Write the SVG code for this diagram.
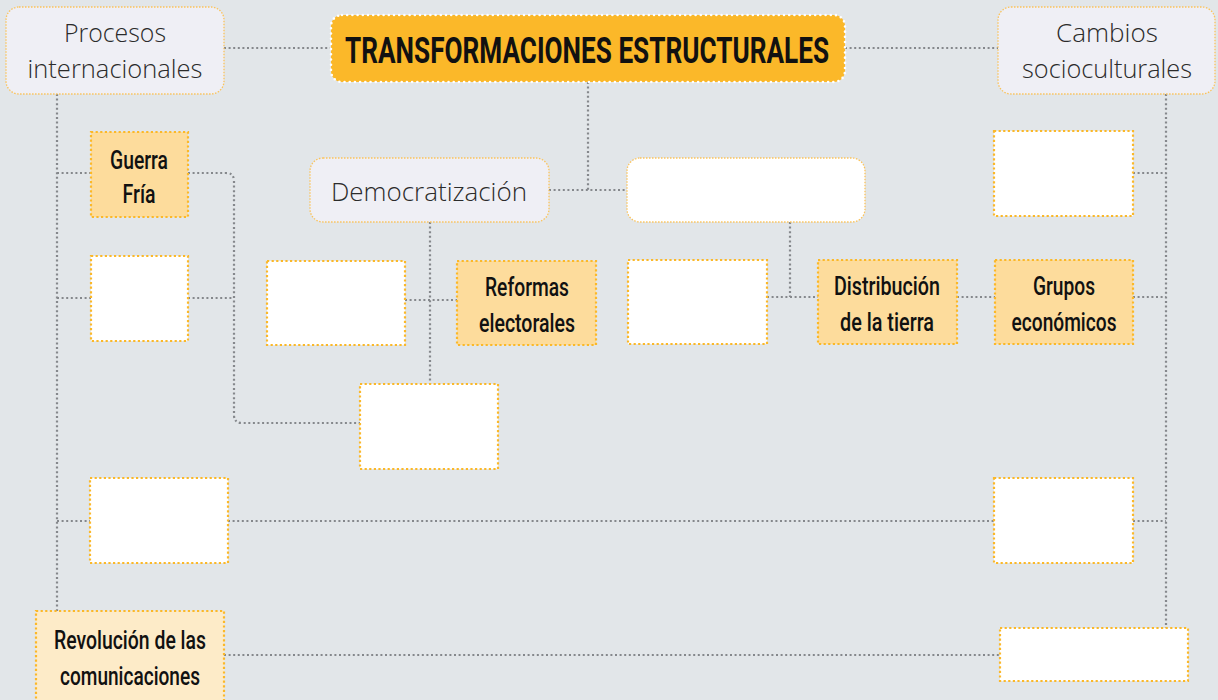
<svg xmlns="http://www.w3.org/2000/svg" width="1218" height="700" viewBox="0 0 1218 700">
<style>
.bg{fill:#e2e6e9}
.conn{fill:none;stroke:#85888c;stroke-width:2.2;stroke-dasharray:2 2.6}
.main{fill:#efeff5;stroke:#fbc35a;stroke-width:1.3;stroke-dasharray:1.5 1.5}
.blankr{fill:#ffffff;stroke:#fbc35a;stroke-width:1.3;stroke-dasharray:1.5 1.5}
.blank{fill:#ffffff;stroke:#fbb829;stroke-width:2.2;stroke-dasharray:2.2 2.4}
.lab{fill:#fddc9c;stroke:#fbb829;stroke-width:2.2;stroke-dasharray:2.2 2.4}
.lab2{fill:#fdebc8;stroke:#fbb829;stroke-width:2.2;stroke-dasharray:2.2 2.4}
.title{fill:#fbb829;stroke:#ffffff;stroke-width:2.6;stroke-dasharray:0 5.2;stroke-linecap:round}
.light{font-family:"Open Sans","Liberation Sans",sans-serif;font-weight:300;font-size:26px;fill:#2b2b2b;text-anchor:middle}
.cond{font-family:Roboto,"Liberation Sans",sans-serif;font-weight:500;font-size:25px;fill:#111;text-anchor:middle}
.tt{font-family:Roboto,"Liberation Sans",sans-serif;font-weight:700;font-size:36px;fill:#111;text-anchor:middle}
</style>
<rect class="bg" x="0" y="0" width="1218" height="700"/>
<g id="connectors">
<path class="conn" d="M224 48H330"/>
<path class="conn" d="M845 48H998"/>
<path class="conn" d="M588 82V190"/>
<path class="conn" d="M549 190H627"/>
<path class="conn" d="M57 94V611"/>
<path class="conn" d="M57 173H91"/>
<path class="conn" d="M57 298H91"/>
<path class="conn" d="M57 521H90"/>
<path class="conn" d="M188 173H226Q234 173 234 181V415Q234 423 242 423H360"/>
<path class="conn" d="M188 298H234"/>
<path class="conn" d="M430 222V384"/>
<path class="conn" d="M405 300H457"/>
<path class="conn" d="M790 222V297"/>
<path class="conn" d="M767 297H818"/>
<path class="conn" d="M957 297H995"/>
<path class="conn" d="M1166 94V628"/>
<path class="conn" d="M1133 173H1166"/>
<path class="conn" d="M1133 297H1166"/>
<path class="conn" d="M1133 521H1166"/>
<path class="conn" d="M228 521H994"/>
<path class="conn" d="M224 655H1000"/>
</g>
<g id="procesos">
<rect class="main" x="6" y="7" width="218" height="87" rx="13"/>
<text class="light" x="115" y="42" textLength="102" lengthAdjust="spacingAndGlyphs">Procesos</text>
<text class="light" x="115" y="78" textLength="175" lengthAdjust="spacingAndGlyphs">internacionales</text>
</g>
<g id="titulo">
<rect class="title" x="331" y="15" width="514" height="67" rx="11"/>
<text class="tt" x="587" y="63" textLength="484" lengthAdjust="spacingAndGlyphs">TRANSFORMACIONES ESTRUCTURALES</text>
</g>
<g id="cambios">
<rect class="main" x="998" y="7" width="217" height="87" rx="13"/>
<text class="light" x="1107" y="42" textLength="102" lengthAdjust="spacingAndGlyphs">Cambios</text>
<text class="light" x="1107" y="78" textLength="170" lengthAdjust="spacingAndGlyphs">socioculturales</text>
</g>
<g id="democratizacion">
<rect class="main" x="310" y="158" width="239" height="64" rx="13"/>
<text class="light" x="429" y="201" textLength="196" lengthAdjust="spacingAndGlyphs">Democratización</text>
</g>
<g id="blank-top">
<rect class="blankr" x="627" y="158" width="238" height="64" rx="13"/>
</g>
<g id="guerra-fria">
<rect class="lab" x="91" y="132" width="97" height="85"/>
<text class="cond" x="139" y="169" textLength="58" lengthAdjust="spacingAndGlyphs">Guerra</text>
<text class="cond" x="139" y="203" textLength="33" lengthAdjust="spacingAndGlyphs">Fría</text>
</g>
<g id="blank-top-right"><rect class="blank" x="994" y="131" width="139" height="85"/></g>
<g id="blank-r2-1"><rect class="blank" x="91" y="256" width="97" height="85"/></g>
<g id="blank-r2-2"><rect class="blank" x="267" y="261" width="138" height="84"/></g>
<g id="reformas">
<rect class="lab" x="457" y="261" width="139" height="84"/>
<text class="cond" x="527" y="296" textLength="84" lengthAdjust="spacingAndGlyphs">Reformas</text>
<text class="cond" x="527" y="332" textLength="96" lengthAdjust="spacingAndGlyphs">electorales</text>
</g>
<g id="blank-r2-3"><rect class="blank" x="628" y="260" width="139" height="84"/></g>
<g id="distribucion">
<rect class="lab" x="818" y="260" width="139" height="84"/>
<text class="cond" x="887" y="295" textLength="106" lengthAdjust="spacingAndGlyphs">Distribución</text>
<text class="cond" x="887" y="331" textLength="94" lengthAdjust="spacingAndGlyphs">de la tierra</text>
</g>
<g id="grupos">
<rect class="lab" x="995" y="260" width="138" height="84"/>
<text class="cond" x="1064" y="295" textLength="62" lengthAdjust="spacingAndGlyphs">Grupos</text>
<text class="cond" x="1064" y="331" textLength="105" lengthAdjust="spacingAndGlyphs">económicos</text>
</g>
<g id="blank-mid"><rect class="blank" x="360" y="384" width="138" height="85"/></g>
<g id="blank-r4-left"><rect class="blank" x="90" y="478" width="138" height="85"/></g>
<g id="blank-r4-right"><rect class="blank" x="994" y="478" width="139" height="85"/></g>
<g id="revolucion">
<rect class="lab2" x="36" y="611" width="188" height="95"/>
<text class="cond" x="130" y="649" textLength="152" lengthAdjust="spacingAndGlyphs">Revolución de las</text>
<text class="cond" x="130" y="685" textLength="140" lengthAdjust="spacingAndGlyphs">comunicaciones</text>
</g>
<g id="blank-bottom-right"><rect class="blank" x="1000" y="628" width="188" height="53"/></g>
</svg>
